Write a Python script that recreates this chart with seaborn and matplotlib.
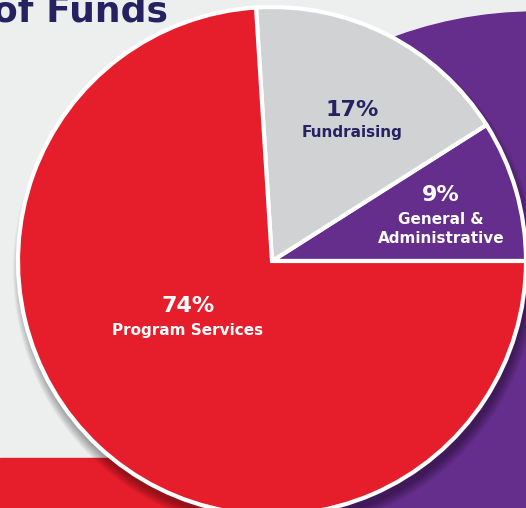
import matplotlib.pyplot as plt
import seaborn as sns
from matplotlib.patches import Circle, Rectangle

# data
labels = ["General &\nAdministrative", "Fundraising", "Program Services"]
shares = [9, 17, 74]
colors = ["#652D8C", "#D1D2D4", "#E61E2B"]
text_colors = ["white", "#262262", "white"]

sns.set_theme(style="white")
plt.rcParams['font.family'] = ['DejaVu Sans']

W, H = 526, 508
fig = plt.figure(figsize=(W / 100, H / 100), dpi=100)
fig.patch.set_facecolor("#EDEFEE")
ax = fig.add_axes([0, 0, 1, 1])
ax.set_facecolor("#EDEFEE")

# pie geometry in pixel coords (y flipped so that pie keeps its direction)
cx, cy, r = 272, H - 261, 254

# decorative background: big purple disc and red band
ax.add_patch(Circle((536, H - 422), 410, color="#652D8C", zorder=0))
ax.add_patch(Rectangle((0, 0), 320, H - 458, color="#E61E2B", zorder=1))

# soft shadow under pie, mostly below
for k in range(10):
    ax.add_patch(Circle((cx + 3, cy - 9), r + 8 - k, color="black",
                        alpha=0.04, lw=0, zorder=2))

wedges, _ = ax.pie(shares, colors=colors, startangle=0, counterclock=True,
                   center=(cx, cy), radius=r,
                   wedgeprops=dict(edgecolor="white", linewidth=3))
for w in wedges:
    w.set_zorder(3)

# labels
pct_pos = [(441, 195), (352, 110), (188, 306)]
name_pos = [(441, 229), (352, 133), (188, 331)]
for s, lab, tc, (px, py), (nx, ny) in zip(shares, labels, text_colors, pct_pos, name_pos):
    ax.text(px, H - py, f"{s}%", ha="center", va="center", color=tc,
            fontsize=16, fontweight="bold", zorder=5)
    ax.text(nx, H - ny, lab, ha="center", va="center", color=tc,
            fontsize=11, fontweight="bold", linespacing=1.35, zorder=5)

ax.text(-7, H - 21, "of Funds", ha="left", va="baseline", color="#262262",
        fontsize=26, fontweight="bold", zorder=5)

ax.set_xlim(0, W)
ax.set_ylim(0, H)
ax.set_aspect("auto")
ax.axis("off")

fig.savefig("out.png", dpi=100, facecolor=fig.get_facecolor())
